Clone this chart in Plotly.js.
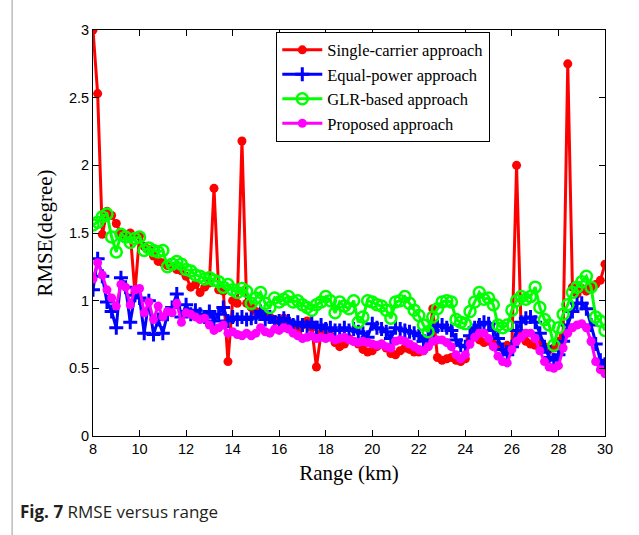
<!DOCTYPE html>
<html>
<head>
<meta charset="utf-8">
<script src="https://cdn.plot.ly/plotly-3.0.1.min.js"></script>
<style>html,body{margin:0;padding:0;background:#fff;}#chart{width:639px;height:535px;}</style>
</head>
<body>
<div id="chart"></div>
<script>
const rangeKm = [8.0,8.2,8.4,8.6,8.8,9.0,9.2,9.4,9.6,9.8,10.0,10.2,10.4,10.6,10.8,11.0,11.2,11.4,11.6,11.8,12.0,12.2,12.4,12.6,12.8,13.0,13.2,13.4,13.6,13.8,14.0,14.2,14.4,14.6,14.8,15.0,15.2,15.4,15.6,15.8,16.0,16.2,16.4,16.6,16.8,17.0,17.2,17.4,17.6,17.8,18.0,18.2,18.4,18.6,18.8,19.0,19.2,19.4,19.6,19.8,20.0,20.2,20.4,20.6,20.8,21.0,21.2,21.4,21.6,21.8,22.0,22.2,22.4,22.6,22.8,23.0,23.2,23.4,23.6,23.8,24.0,24.2,24.4,24.6,24.8,25.0,25.2,25.4,25.6,25.8,26.0,26.2,26.4,26.6,26.8,27.0,27.2,27.4,27.6,27.8,28.0,28.2,28.4,28.6,28.8,29.0,29.2,29.4,29.6,29.8,30.0];

const singleCarrier = [3.00,2.53,1.49,1.66,1.63,1.57,1.50,1.48,1.50,1.06,1.48,1.40,1.38,1.33,1.29,1.28,1.26,1.25,1.23,1.22,1.18,1.10,1.12,1.06,1.10,1.13,1.83,1.08,1.07,0.55,1.00,0.98,2.18,0.98,0.95,0.92,0.91,0.89,0.88,0.86,0.85,0.87,0.84,0.80,0.76,0.82,0.85,0.80,0.51,0.76,0.75,0.74,0.69,0.66,0.68,0.72,0.70,0.68,0.64,0.62,0.63,0.66,0.68,0.65,0.61,0.60,0.63,0.65,0.64,0.62,0.62,0.63,0.66,0.94,0.58,0.56,0.57,0.58,0.56,0.55,0.57,0.72,0.78,0.71,0.69,0.70,0.68,0.66,0.65,0.67,0.66,2.00,0.75,0.70,0.68,0.67,0.70,0.66,0.64,0.65,0.70,0.74,2.75,1.10,1.05,1.09,1.07,1.10,1.12,1.15,1.27];

const equalPower = [1.08,1.31,1.18,0.99,0.92,0.80,1.17,1.10,0.84,1.04,1.02,0.76,1.00,0.75,0.86,0.76,0.90,0.95,1.05,0.88,0.97,0.90,0.93,0.90,0.88,0.92,0.85,0.90,0.95,0.85,0.88,0.86,0.88,0.86,0.87,0.88,0.92,0.86,0.88,0.84,0.85,0.87,0.85,0.82,0.84,0.82,0.81,0.84,0.80,0.82,0.79,0.80,0.78,0.78,0.80,0.78,0.79,0.77,0.76,0.73,0.83,0.80,0.79,0.77,0.72,0.80,0.79,0.78,0.77,0.76,0.74,0.70,0.73,0.78,0.81,0.82,0.80,0.78,0.71,0.67,0.66,0.74,0.80,0.82,0.84,0.83,0.78,0.72,0.64,0.60,0.66,0.78,0.84,0.87,0.88,0.84,0.76,0.66,0.58,0.56,0.60,0.70,0.82,0.92,0.98,0.98,0.94,0.82,0.68,0.56,0.53];

const glrBased = [1.56,1.58,1.62,1.64,1.47,1.36,1.49,1.47,1.43,1.46,1.47,1.37,1.39,1.37,1.36,1.37,1.25,1.27,1.29,1.27,1.23,1.22,1.19,1.18,1.16,1.17,1.15,1.14,1.10,1.12,1.08,1.06,1.09,1.07,0.98,1.02,1.06,0.98,0.95,1.02,0.99,1.01,1.03,0.99,1.00,0.97,0.95,0.93,0.97,0.99,1.03,1.00,0.91,0.99,0.96,0.94,1.00,0.84,0.88,1.00,0.99,0.97,0.96,0.93,0.87,0.99,1.00,1.03,0.98,0.93,0.89,0.82,0.77,0.88,0.94,0.99,1.00,0.99,0.86,0.84,0.83,0.92,0.99,1.06,1.01,1.02,0.97,0.82,0.80,0.82,0.93,1.00,1.03,1.01,1.03,1.10,0.95,0.86,0.82,0.67,0.80,0.90,0.97,1.06,1.10,1.14,1.18,1.10,0.88,0.85,0.78];

const proposed = [1.16,1.28,1.19,1.08,1.02,0.96,1.12,1.10,0.97,1.08,1.09,0.91,0.99,0.86,0.96,0.88,0.92,0.91,0.98,0.84,0.91,0.90,0.88,0.86,0.87,0.82,0.78,0.80,0.82,0.76,0.77,0.75,0.74,0.76,0.74,0.76,0.80,0.77,0.76,0.79,0.78,0.80,0.79,0.76,0.74,0.72,0.73,0.74,0.72,0.73,0.72,0.73,0.71,0.72,0.73,0.71,0.70,0.69,0.70,0.69,0.68,0.67,0.68,0.66,0.65,0.70,0.71,0.70,0.68,0.66,0.64,0.63,0.66,0.70,0.71,0.71,0.69,0.66,0.60,0.57,0.60,0.68,0.73,0.76,0.76,0.72,0.66,0.59,0.55,0.54,0.64,0.70,0.73,0.76,0.76,0.72,0.63,0.55,0.51,0.50,0.52,0.65,0.76,0.80,0.82,0.83,0.80,0.70,0.55,0.49,0.46];

const seriesNames = ['Single-carrier approach','Equal-power approach','GLR-based approach','Proposed approach'];
const xTicks = [8,10,12,14,16,18,20,22,24,26,28,30];
const yTicks = [0,0.5,1,1.5,2,2.5,3];
const yTickText = ['0','0.5','1','1.5','2','2.5','3'];

const traces = [
  {x: rangeKm, y: singleCarrier, name: seriesNames[0], mode: 'lines+markers',
   line: {color: '#ff0000', width: 3}, marker: {symbol: 'circle', size: 9, color: '#ff0000'}},
  {x: rangeKm, y: equalPower, name: seriesNames[1], mode: 'lines+markers',
   line: {color: '#0000ff', width: 3}, marker: {symbol: 'cross-thin', size: 10, color: '#0000ff', line: {color: '#0000ff', width: 3}}},
  {x: rangeKm, y: glrBased, name: seriesNames[2], mode: 'lines+markers',
   line: {color: '#00ff00', width: 3}, marker: {symbol: 'circle-open', size: 11, color: '#00ff00', line: {color: '#00ff00', width: 2.5}}},
  {x: rangeKm, y: proposed, name: seriesNames[3], mode: 'lines+markers',
   line: {color: '#ff00ff', width: 3}, marker: {symbol: 'circle', size: 9, color: '#ff00ff'}}
];

const layout = {
  width: 639, height: 535,
  margin: {l: 93, r: 34, t: 30, b: 99},
  paper_bgcolor: '#ffffff', plot_bgcolor: '#ffffff',
  showlegend: true,
  legend: {x: 0.358, y: 0.996, xanchor: 'left', yanchor: 'top',
    bgcolor: '#ffffff', bordercolor: '#000000', borderwidth: 1,
    font: {family: 'Liberation Serif, Times New Roman, serif', size: 16.5, color: '#000'},
    tracegroupgap: 0, itemwidth: 40},
  xaxis: {range: [8, 30], tickvals: xTicks, ticktext: xTicks.map(String),
    ticks: 'inside', ticklen: 6, tickcolor: '#000', showline: true, linecolor: '#000', linewidth: 1,
    mirror: 'ticks', showgrid: false, zeroline: false,
    tickfont: {family: 'Liberation Sans, Arial, sans-serif', size: 14.5, color: '#000'},
    title: {text: 'Range (km)', font: {family: 'Liberation Serif, Times New Roman, serif', size: 21, color: '#000'}, standoff: 8}},
  yaxis: {range: [0, 3], tickvals: yTicks, ticktext: yTickText,
    ticks: 'inside', ticklen: 6, tickcolor: '#000', showline: true, linecolor: '#000', linewidth: 1,
    mirror: 'ticks', showgrid: false, zeroline: false,
    tickfont: {family: 'Liberation Sans, Arial, sans-serif', size: 14.5, color: '#000'},
    title: {text: 'RMSE(degree)', font: {family: 'Liberation Serif, Times New Roman, serif', size: 21, color: '#000'}, standoff: 10}},
  shapes: [
    {type: 'line', xref: 'paper', yref: 'paper', x0: -0.158, x1: -0.158, y0: -0.245, y1: 1.075,
     line: {color: '#999999', width: 1}}
  ],
  annotations: [
    {xref: 'paper', yref: 'paper', x: -0.147, y: -0.185, xanchor: 'left', yanchor: 'middle', showarrow: false,
     text: '<b>Fig. 7</b> RMSE versus range',
     font: {family: 'Open Sans, Noto Sans, sans-serif', size: 17, color: '#231f20'}}
  ]
};

Plotly.newPlot('chart', traces, layout, {displayModeBar: false, staticPlot: true});
</script>
</body>
</html>
